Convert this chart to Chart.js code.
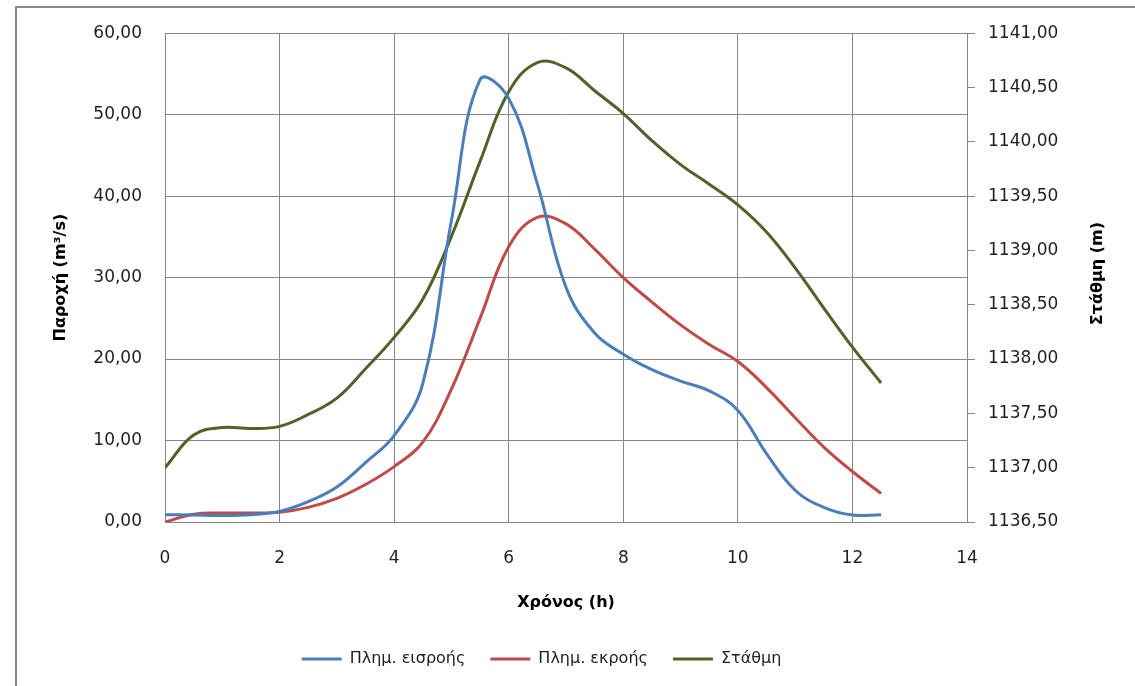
<!DOCTYPE html>
<html lang="el">
<head>
<meta charset="utf-8">
<title>Πλημμυρογραφήματα εισροής - εκροής και στάθμη</title>
<script src="https://cdn.jsdelivr.net/npm/chart.js@4.4.0/dist/chart.umd.min.js"></script>
<style>
    html, body { margin: 0; padding: 0; background: #fff; }
    #wrap { width: 1135px; height: 686px; }
</style>
</head>
<body>
<div id="wrap"><canvas id="chartDiodeusi" width="1135" height="686"></canvas></div>
<script>
// ===== ΔΕΔΟΜΕΝΑ =====
const hours = [0, 0.5, 1, 1.5, 2, 2.5, 3, 3.5, 4, 4.5, 5, 5.5, 6, 6.5, 7, 7.5, 8, 8.5, 9, 9.5, 10, 10.5, 11, 11.5, 12, 12.5];

// παροχή εισροής (m3/s)
const inflow = [0.9, 0.85, 0.8, 0.9, 1.3, 2.5, 4.3, 7.3, 10.6, 17.0, 37.0, 54.3, 52.0, 41.5, 28.8, 23.2, 20.6, 18.7, 17.3, 16.1, 13.7, 8.4, 3.9, 1.8, 0.85, 0.9];

// παροχή εκροής (m3/s)
const outflow = [0.0, 0.95, 1.1, 1.1, 1.2, 1.8, 2.9, 4.6, 6.8, 9.8, 16.3, 25.0, 33.8, 37.4, 36.6, 33.5, 30.0, 27.0, 24.2, 21.8, 19.7, 16.5, 12.8, 9.2, 6.2, 3.5];

// στάθμη ταμιευτήρα (m)
const stage = [1137.00, 1137.30, 1137.37, 1137.36, 1137.38, 1137.49, 1137.64, 1137.91, 1138.20, 1138.55, 1139.13, 1139.82, 1140.46, 1140.73, 1140.68, 1140.47, 1140.26, 1140.01, 1139.79, 1139.61, 1139.42, 1139.17, 1138.84, 1138.47, 1138.11, 1137.78];

const seriesNames = ['Πλημ. εισροής', 'Πλημ. εκροής', 'Στάθμη'];
const seriesColors = ['#4A7EBB', '#BE4B48', '#4F6228'];
const stageTitle = 'Στάθμη (m)';

const gridColor = '#868686';
const textColor = '#1f1f1f';
const fontFamily = "'DejaVu Sans', sans-serif";

function fmt(v) {
    return Number(v).toFixed(2).replace('.', ',');
}

function pairs(values) {
    return hours.map((h, i) => ({ x: h, y: values[i] }));
}

// περίγραμμα γραφήματος, λευκό φόντο και τίτλος δεξιού άξονα (από κάτω προς τα πάνω)
const chartFrame = {
    id: 'chartFrame',
    beforeDraw(chart) {
        const ctx = chart.ctx;
        ctx.save();
        ctx.fillStyle = '#fff';
        ctx.fillRect(0, 0, chart.width, chart.height);
        ctx.strokeStyle = '#8a8a8a';
        ctx.lineWidth = 2;
        ctx.beginPath();
        ctx.moveTo(16, chart.height);
        ctx.lineTo(16, 7);
        ctx.lineTo(chart.width, 7);
        ctx.stroke();
        ctx.restore();
    },
    afterDraw(chart) {
        const ctx = chart.ctx;
        const area = chart.chartArea;
        const y1 = chart.scales.y1;
        ctx.save();
        ctx.translate(y1.right - 37, (area.top + area.bottom) / 2 - 4);
        ctx.rotate(-Math.PI / 2);
        ctx.font = 'bold 16px ' + fontFamily;
        ctx.fillStyle = '#000';
        ctx.textAlign = 'center';
        ctx.textBaseline = 'middle';
        ctx.fillText(stageTitle, 0, 0);
        ctx.restore();
    }
};

// το υπόμνημα λίγο πιο αριστερά
const legendShift = {
    id: 'legendShift',
    afterLayout(chart) {
        if (chart.legend) {
            chart.legend.left -= 26;
            chart.legend.right -= 26;
        }
    }
};

Chart.defaults.font.family = fontFamily;
Chart.defaults.color = textColor;

function makeDataset(i, values, axis) {
    return {
        label: seriesNames[i],
        data: pairs(values),
        yAxisID: axis,
        borderColor: seriesColors[i],
        backgroundColor: seriesColors[i],
        borderWidth: 3,
        pointRadius: 0,
        pointHoverRadius: 0,
        tension: 0.4,
        fill: false
    };
}

const ctx = document.getElementById('chartDiodeusi').getContext('2d');
const chart = new Chart(ctx, {
    type: 'line',
    data: {
        datasets: [
            makeDataset(0, inflow, 'y'),
            makeDataset(1, outflow, 'y'),
            makeDataset(2, stage, 'y1')
        ]
    },
    options: {
        responsive: false,
        animation: false,
        layout: { padding: { top: 31, bottom: 9, left: 0, right: 0 } },
        plugins: {
            tooltip: { enabled: false },
            legend: {
                position: 'bottom',
                labels: {
                    usePointStyle: true,
                    pointStyle: 'line',
                    pointStyleWidth: 40,
                    padding: 25,
                    color: textColor,
                    font: { size: 16 }
                }
            }
        },
        scales: {
            x: {
                type: 'linear',
                min: 0,
                max: 14,
                ticks: { stepSize: 2, padding: 26, font: { size: 17 } },
                grid: { color: gridColor, drawTicks: false },
                border: { color: gridColor },
                title: {
                    display: true,
                    text: 'Χρόνος (h)',
                    color: '#000',
                    font: { size: 16, weight: 'bold' },
                    padding: { top: 0, bottom: 14 }
                },
                afterFit(scale) { scale.height = 104; }
            },
            y: {
                position: 'left',
                min: 0,
                max: 60,
                ticks: { stepSize: 10, padding: 23, font: { size: 17 }, callback: v => fmt(v) },
                grid: { color: gridColor, drawTicks: false },
                border: { color: gridColor },
                title: {
                    display: true,
                    text: 'Παροχή (m³/s)',
                    color: '#000',
                    font: { size: 16, weight: 'bold' },
                    padding: { top: 51, bottom: 0 }
                },
                afterFit(scale) { scale.width = 165; }
            },
            y1: {
                position: 'right',
                min: 1136.5,
                max: 1141,
                ticks: { stepSize: 0.5, padding: 13, font: { size: 17 }, callback: v => fmt(v) },
                grid: { drawOnChartArea: false, color: gridColor, tickLength: 8 },
                border: { color: gridColor },
                title: { display: false },
                afterFit(scale) { scale.width = 168; }
            }
        }
    },
    plugins: [chartFrame, legendShift]
});
</script>
</body>
</html>
